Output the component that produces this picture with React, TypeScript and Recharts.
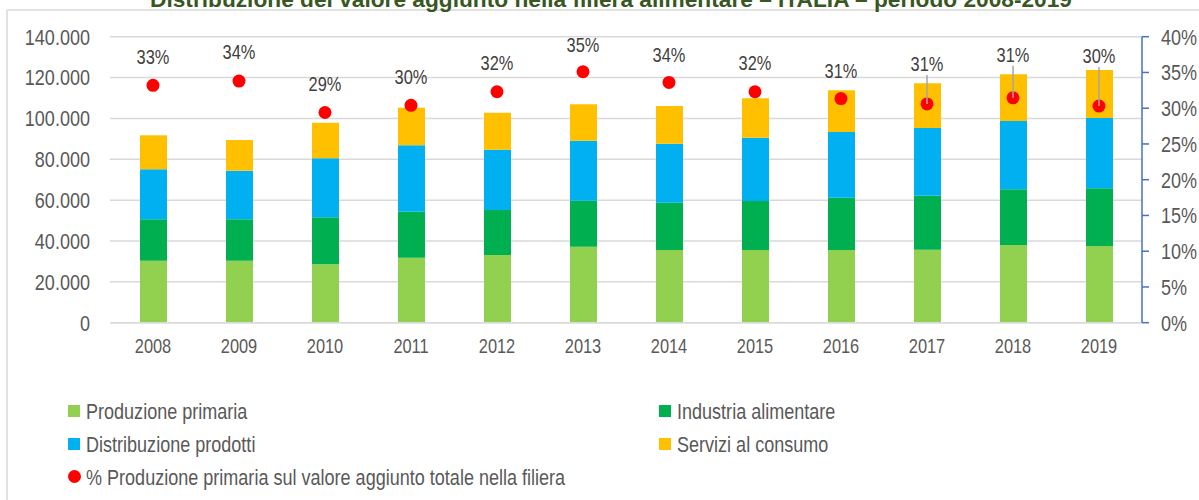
import React from 'react';
import {
  ComposedChart, Bar, Line, XAxis, YAxis, CartesianGrid, LabelList,
} from 'recharts';

const YEARS = ['2008', '2009', '2010', '2011', '2012', '2013', '2014', '2015', '2016', '2017', '2018', '2019'];
const PRIMARIA = [30350, 30350, 28590, 31820, 33140, 37200, 35590, 35590, 35590, 35730, 38030, 37550];
const INDUSTRIA = [20270, 20270, 23010, 22520, 22030, 22520, 23150, 23990, 25600, 26430, 27270, 28250];
const DISTRIBUZIONE = [24480, 23790, 28880, 32500, 29520, 29370, 28880, 30990, 32160, 33140, 33430, 34410];
const SERVIZI = [16640, 15030, 17430, 18410, 18110, 17820, 18460, 19290, 20410, 21880, 22860, 23500];
const QUOTA = [33.2, 33.8, 29.4, 30.4, 32.3, 35.1, 33.6, 32.3, 31.35, 30.6, 31.45, 30.3];

const LEFT_TICKS = [0, 20000, 40000, 60000, 80000, 100000, 120000, 140000];
const RIGHT_TICKS = [0, 5, 10, 15, 20, 25, 30, 35, 40];

const TITLE = 'Distribuzione del valore aggiunto nella filiera alimentare \u2013 ITALIA \u2013 periodo 2008-2019';

const SERIES = [
  { key: 'primaria', name: 'Produzione primaria', color: '#92D050' },
  { key: 'industria', name: 'Industria alimentare', color: '#00B050' },
  { key: 'distribuzione', name: 'Distribuzione prodotti', color: '#00B0F0' },
  { key: 'servizi', name: 'Servizi al consumo', color: '#FFC000' },
];
const QUOTA_NAME = '% Produzione primaria sul valore aggiunto totale nella filiera';

// label lift above the dot (style only)
const LABEL_LIFT = [28, 29, 28.7, 28.7, 28.7, 27, 27.7, 29, 28, 40, 43, 50];

const data = YEARS.map((y, i) => ({
  year: y,
  primaria: PRIMARIA[i],
  industria: INDUSTRIA[i],
  distribuzione: DISTRIBUZIONE[i],
  servizi: SERVIZI[i],
  quota: QUOTA[i],
}));

const FONT = "'Liberation Sans', Arial, sans-serif";
const SQUEEZE = 0.82;

const fmtThousands = (v: number) => String(v).replace(/\B(?=(\d{3})+(?!\d))/g, '.');

const NText = ({ x, y, anchor = 'start', size, fill, children }: any) => (
  <text
    transform={`translate(${x},${y}) scale(${SQUEEZE},1)`}
    textAnchor={anchor}
    fontFamily={FONT}
    fontSize={size}
    fill={fill}
  >
    {children}
  </text>
);

const LeftTick = (props: any) => {
  const { x, y, payload } = props;
  return <NText x={x} y={y + 0.355 * 22} anchor="end" size={22} fill="#595959">{fmtThousands(payload.value)}</NText>;
};
const RightTick = (props: any) => {
  const { x, y, payload } = props;
  return <NText x={x} y={y + 0.355 * 22} anchor="start" size={22} fill="#595959">{`${payload.value}%`}</NText>;
};
const BottomTick = (props: any) => {
  const { x, y, payload } = props;
  return <NText x={x} y={y + 0.71 * 20} anchor="middle" size={20} fill="#595959">{payload.value}</NText>;
};

const QuotaLabel = (props: any) => {
  const { x, y, value, index } = props;
  const lift = LABEL_LIFT[index] ?? 28;
  const cy = y - lift;
  const leader = lift > 35;
  return (
    <g>
      {leader && (
        <line x1={x} y1={cy + 11} x2={x} y2={y} stroke="#A6A6A6" strokeWidth={1.5} />
      )}
      <NText x={x} y={cy + 7} anchor="middle" size={20} fill="#404040">{`${Math.round(value)}%`}</NText>
    </g>
  );
};

const LegendBlock = () => {
  const rowY = [411, 444, 476.5];
  const items = [
    { ...SERIES[0], x: 68, y: rowY[0] },
    { ...SERIES[1], x: 659, y: rowY[0] },
    { ...SERIES[2], x: 68, y: rowY[1] },
    { ...SERIES[3], x: 659, y: rowY[1] },
  ];
  return (
    <svg width={1199} height={500} style={{ position: 'absolute', left: 0, top: 0, pointerEvents: 'none' }}>
      {items.map((it) => (
        <g key={it.key}>
          <rect x={it.x} y={it.y - 6} width={12} height={12} fill={it.color} />
          <NText x={it.x + 18} y={it.y + 8} size={22} fill="#595959">{it.name}</NText>
        </g>
      ))}
      <circle cx={74.5} cy={rowY[2]} r={6.5} fill="#FF0000" />
      <NText x={86} y={rowY[2] + 8} size={22} fill="#595959">{QUOTA_NAME}</NText>
    </svg>
  );
};

export default function App() {
  return (
    <div style={{ position: 'absolute', left: 0, top: 0, width: 1199, height: 500, overflow: 'hidden', background: '#fff' }}>
      <svg width={1199} height={500} style={{ position: 'absolute', left: 0, top: 0 }}>
        <line x1={7} y1={10} x2={7} y2={500} stroke="#D9D9D9" strokeWidth={1.5} />
        <line x1={7} y1={10} x2={1199} y2={10} stroke="#D9D9D9" strokeWidth={1.5} />
        <text x={150} y={6.5} textLength={922} lengthAdjust="spacingAndGlyphs" fontFamily={FONT} fontWeight="bold" fontSize={22} fill="#385723">
          {TITLE}
        </text>
      </svg>
      <div style={{ position: 'absolute', left: 0, top: 0 }}>
        <ComposedChart
          width={1199}
          height={500}
          data={data}
          margin={{ top: 36.7, right: 0, bottom: 147.3, left: 0 }}
          barSize={27}
        >
          <CartesianGrid vertical={false} stroke="#D9D9D9" strokeWidth={1.5} yAxisId="left" />
          <XAxis
            dataKey="year"
            height={30}
            axisLine={{ stroke: '#D9D9D9', strokeWidth: 1.5 }}
            tickLine={false}
            tickSize={6}
            tickMargin={10}
            tick={<BottomTick />}
            interval={0}
          />
          <YAxis
            yAxisId="left"
            orientation="left"
            width={110}
            domain={[0, 140000]}
            ticks={LEFT_TICKS}
            axisLine={false}
            tickLine={false}
            tickMargin={14}
            tick={<LeftTick />}
            interval={0}
          />
          <YAxis
            yAxisId="right"
            orientation="right"
            width={57}
            domain={[0, 40]}
            ticks={RIGHT_TICKS}
            axisLine={{ stroke: '#4472C4', strokeWidth: 1.5 }}
            tickLine={{ stroke: '#4472C4', strokeWidth: 1.5 }}
            tickSize={7}
            tickMargin={12}
            tick={<RightTick />}
            interval={0}
          />
          {SERIES.map((s) => (
            <Bar key={s.key} dataKey={s.key} name={s.name} stackId="va" yAxisId="left" fill={s.color} isAnimationActive={false} />
          ))}
          <Line
            dataKey="quota"
            name={QUOTA_NAME}
            yAxisId="right"
            stroke="none"
            strokeWidth={0}
            dot={{ r: 6.5, fill: '#FF0000', stroke: 'none' }}
            activeDot={false}
            isAnimationActive={false}
          >
            <LabelList dataKey="quota" content={<QuotaLabel />} />
          </Line>
        </ComposedChart>
      </div>
      <LegendBlock />
    </div>
  );
}
